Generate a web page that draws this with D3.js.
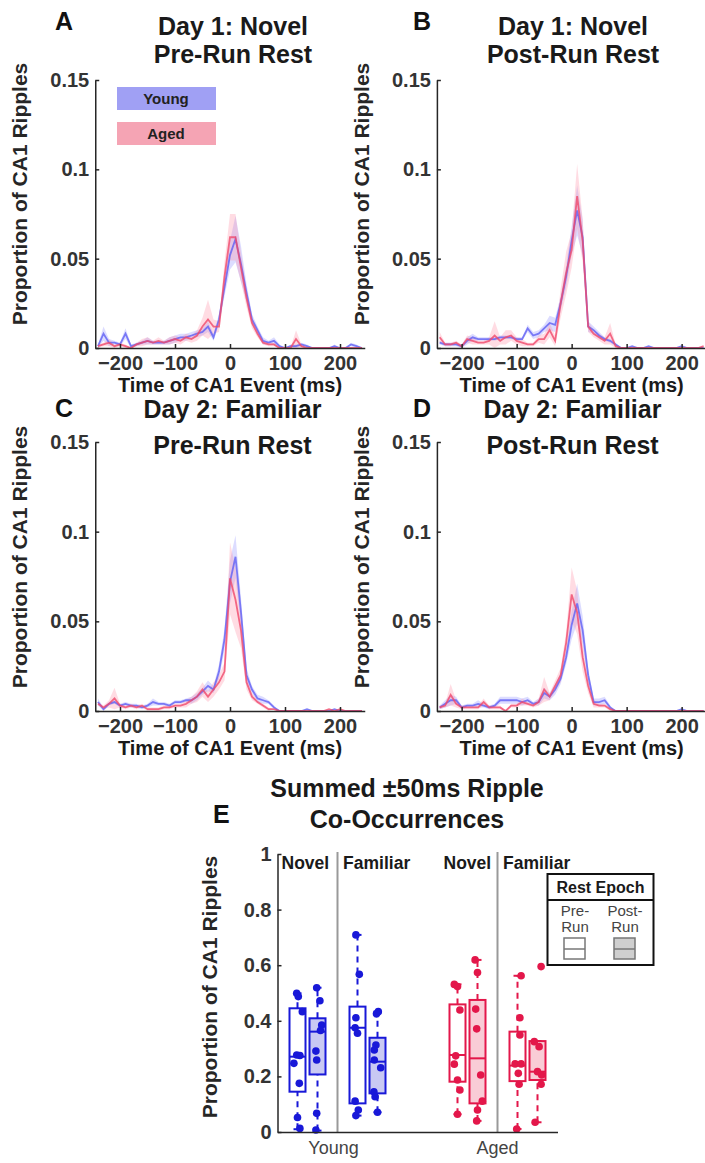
<!DOCTYPE html>
<html>
<head>
<meta charset="utf-8">
<script src="https://cdn.jsdelivr.net/npm/d3@7"></script>
<style>
  body { margin: 0; background: #fff; }
  text { font-family: "Liberation Sans", Arial, sans-serif; }
</style>
</head>
<body>
<div class="chart"></div>
<script>
// time bins (ms) of the CA1 event cross-correlation
const times = [-240,-230,-220,-210,-200,-190,-180,-170,-160,-150,
               -140,-130,-120,-110,-100,-90,-80,-70,-60,-50,
               -40,-30,-20,-10,0,10,20,30,40,50,
               60,70,80,90,100,110,120,130,140,150,
               160,170,180,190,200,210,220,230,240];

// A: Day 1 novel, pre-run rest
const youngA = [0.001,0.008,0.003,0.003,0.002,0.008,0.001,0.002,0.003,0.004,
                0.003,0.003,0.003,0.004,0.005,0.006,0.006,0.007,0.008,0.009,
                0.012,0.006,0.016,0.034,0.052,0.061,0.047,0.031,0.016,0.010,
                0.004,0.003,0.004,0.001,0.000,0.001,0.001,0.002,0.001,0.000,
                0.000,0.000,0.000,0.001,0.000,0.000,0.002,0.001,0.000];
const youngAsem = [0.001,0.004,0.002,0.001,0.001,0.003,0.001,0.001,0.001,0.002,
                   0.001,0.001,0.001,0.002,0.002,0.002,0.002,0.002,0.002,0.002,
                   0.003,0.002,0.003,0.005,0.008,0.013,0.010,0.005,0.003,0.002,
                   0.002,0.001,0.002,0.001,0.000,0.001,0.001,0.001,0.001,0.000,
                   0.000,0.000,0.000,0.001,0.000,0.000,0.001,0.001,0.000];
const agedA = [0.001,0.002,0.003,0.001,0.002,0.001,0.000,0.002,0.003,0.004,
               0.003,0.004,0.003,0.004,0.005,0.004,0.006,0.005,0.007,0.012,
               0.016,0.012,0.012,0.040,0.062,0.062,0.045,0.028,0.014,0.008,
               0.003,0.002,0.002,0.000,0.000,0.000,0.005,0.001,0.000,0.000,
               0.000,0.000,0.000,0.000,0.000,0.000,0.000,0.000,0.000];
const agedAsem = [0.001,0.001,0.002,0.001,0.001,0.001,0.000,0.001,0.002,0.002,
                  0.001,0.002,0.001,0.002,0.002,0.002,0.002,0.002,0.003,0.005,
                  0.011,0.004,0.003,0.008,0.013,0.013,0.008,0.005,0.003,0.002,
                  0.001,0.001,0.001,0.000,0.000,0.000,0.005,0.001,0.000,0.000,
                  0.000,0.000,0.000,0.000,0.000,0.000,0.000,0.000,0.000];

// B: Day 1 novel, post-run rest
const youngB = [0.003,0.002,0.002,0.002,0.001,0.004,0.006,0.005,0.005,0.005,
                0.005,0.006,0.006,0.006,0.005,0.005,0.011,0.007,0.008,0.011,
                0.014,0.013,0.025,0.040,0.060,0.077,0.062,0.012,0.010,0.007,
                0.005,0.004,0.002,0.000,0.000,0.001,0.000,0.000,0.001,0.000,
                0.000,0.000,0.000,0.000,0.001,0.000,0.000,0.000,0.000];
const youngBsem = [0.001,0.001,0.001,0.001,0.001,0.002,0.002,0.001,0.001,0.001,
                   0.001,0.001,0.001,0.001,0.001,0.001,0.002,0.002,0.002,0.002,
                   0.004,0.004,0.004,0.006,0.008,0.014,0.010,0.003,0.002,0.002,
                   0.001,0.001,0.001,0.000,0.000,0.000,0.000,0.000,0.000,0.000,
                   0.000,0.000,0.000,0.000,0.000,0.000,0.000,0.000,0.000];
const agedB = [0.006,0.002,0.002,0.003,0.001,0.005,0.004,0.003,0.003,0.004,
               0.007,0.004,0.006,0.007,0.004,0.003,0.002,0.002,0.005,0.005,
               0.010,0.004,0.025,0.042,0.055,0.085,0.060,0.012,0.008,0.006,
               0.004,0.008,0.001,0.000,0.000,0.000,0.000,0.000,0.000,0.000,
               0.000,0.000,0.000,0.000,0.000,0.000,0.000,0.000,0.001];
const agedBsem = [0.003,0.001,0.001,0.001,0.001,0.002,0.002,0.001,0.001,0.002,
                  0.008,0.002,0.004,0.003,0.002,0.002,0.001,0.001,0.002,0.003,
                  0.004,0.003,0.008,0.012,0.010,0.018,0.012,0.003,0.002,0.002,
                  0.002,0.006,0.001,0.000,0.000,0.000,0.000,0.000,0.000,0.000,
                  0.000,0.000,0.000,0.000,0.000,0.000,0.000,0.000,0.000];

// C: Day 2 familiar, pre-run rest
const youngC = [0.005,0.001,0.004,0.005,0.003,0.004,0.003,0.003,0.002,0.003,
                0.005,0.004,0.004,0.003,0.005,0.005,0.006,0.006,0.008,0.011,
                0.014,0.012,0.022,0.040,0.072,0.086,0.055,0.020,0.012,0.007,
                0.006,0.005,0.002,0.000,0.000,0.000,0.000,0.000,0.001,0.000,
                0.000,0.000,0.000,0.001,0.000,0.000,0.000,0.000,0.000];
const youngCsem = [0.002,0.001,0.001,0.001,0.001,0.001,0.001,0.001,0.001,0.001,
                   0.002,0.001,0.001,0.001,0.001,0.001,0.001,0.002,0.002,0.002,
                   0.003,0.002,0.004,0.006,0.012,0.012,0.008,0.004,0.002,0.002,
                   0.002,0.001,0.001,0.000,0.000,0.000,0.000,0.000,0.000,0.000,
                   0.000,0.000,0.000,0.000,0.000,0.000,0.000,0.000,0.000];
const agedC = [0.004,0.002,0.004,0.007,0.003,0.002,0.003,0.002,0.003,0.001,
               0.001,0.001,0.002,0.002,0.003,0.003,0.004,0.006,0.008,0.012,
               0.008,0.012,0.016,0.022,0.074,0.062,0.045,0.016,0.008,0.005,
               0.003,0.001,0.001,0.000,0.000,0.000,0.000,0.000,0.000,0.000,
               0.000,0.000,0.001,0.000,0.001,0.000,0.000,0.000,0.000];
const agedCsem = [0.001,0.001,0.002,0.006,0.001,0.001,0.001,0.001,0.001,0.001,
                  0.001,0.001,0.001,0.001,0.001,0.001,0.002,0.002,0.003,0.004,
                  0.003,0.004,0.004,0.005,0.020,0.018,0.010,0.004,0.002,0.001,
                  0.001,0.001,0.000,0.000,0.000,0.000,0.000,0.000,0.000,0.000,
                  0.000,0.000,0.000,0.000,0.000,0.000,0.000,0.000,0.000];

// D: Day 2 familiar, post-run rest
const youngD = [0.002,0.004,0.006,0.006,0.002,0.003,0.003,0.004,0.003,0.002,
                0.003,0.006,0.006,0.006,0.006,0.005,0.006,0.004,0.005,0.010,
                0.008,0.012,0.018,0.030,0.048,0.060,0.045,0.020,0.005,0.005,
                0.006,0.002,0.000,0.000,0.000,0.000,0.000,0.000,0.000,0.000,
                0.000,0.000,0.000,0.000,0.001,0.000,0.000,0.000,0.000];
const youngDsem = [0.001,0.002,0.003,0.002,0.001,0.001,0.001,0.002,0.001,0.001,
                   0.001,0.002,0.002,0.002,0.002,0.002,0.002,0.001,0.002,0.003,
                   0.002,0.003,0.003,0.004,0.008,0.011,0.008,0.004,0.002,0.002,
                   0.002,0.001,0.000,0.000,0.000,0.000,0.000,0.000,0.000,0.000,
                   0.000,0.000,0.000,0.000,0.000,0.000,0.000,0.000,0.000];
const agedD = [0.002,0.003,0.009,0.004,0.002,0.002,0.002,0.002,0.005,0.002,
               0.002,0.002,0.000,0.003,0.003,0.005,0.004,0.003,0.005,0.012,
               0.008,0.014,0.020,0.038,0.065,0.055,0.030,0.014,0.004,0.003,
               0.003,0.001,0.000,0.000,0.000,0.000,0.000,0.000,0.000,0.000,
               0.000,0.000,0.000,0.000,0.000,0.000,0.000,0.000,0.000];
const agedDsem = [0.001,0.001,0.006,0.002,0.001,0.001,0.001,0.001,0.002,0.001,
                  0.001,0.001,0.000,0.001,0.001,0.002,0.001,0.001,0.002,0.007,
                  0.002,0.003,0.004,0.006,0.015,0.012,0.008,0.004,0.002,0.001,
                  0.001,0.001,0.000,0.000,0.000,0.000,0.000,0.000,0.000,0.000,
                  0.000,0.000,0.000,0.000,0.000,0.000,0.000,0.000,0.000];

const yTicks = [0, 0.05, 0.1, 0.15];
const yTickLabels = ["0", "0.05", "0.1", "0.15"];
const xTicks = [-200, -100, 0, 100, 200];

// E: summed +-50ms co-occurrences, box order:
// Young Novel Pre, Young Novel Post, Young Familiar Pre, Young Familiar Post,
// Aged Novel Pre, Aged Novel Post, Aged Familiar Pre, Aged Familiar Post
const boxSlots = [1, 2, 4, 5, 9, 10, 12, 13];
const boxAge = ["Young","Young","Young","Young","Aged","Aged","Aged","Aged"];
const boxEpoch = ["Pre","Post","Pre","Post","Pre","Post","Pre","Post"];
const boxQ1  = [0.145, 0.207, 0.103, 0.139, 0.181, 0.103, 0.183, 0.187];
const boxMed = [0.271, 0.361, 0.375, 0.253, 0.277, 0.265, 0.239, 0.217];
const boxQ3  = [0.445, 0.409, 0.451, 0.339, 0.459, 0.475, 0.361, 0.327];
const whiskLo = [0.010, 0.005, 0.059, 0.071, 0.064, 0.040, 0.011, 0.035];
const whiskHi = [0.499, 0.519, 0.709, 0.433, 0.531, 0.619, 0.562, 0.327];
const boxPoints = [
  [0.499,0.487,0.433,0.277,0.275,0.247,0.175,0.052,0.013],
  [0.519,0.472,0.385,0.365,0.291,0.259,0.067,0.007],
  [0.709,0.567,0.411,0.375,0.355,0.111,0.079,0.059],
  [0.433,0.425,0.313,0.295,0.259,0.231,0.145,0.127,0.071],
  [0.531,0.523,0.439,0.274,0.244,0.187,0.151,0.064],
  [0.619,0.574,0.442,0.371,0.205,0.111,0.079,0.040],
  [0.562,0.411,0.349,0.245,0.245,0.211,0.172,0.011],
  [0.595,0.325,0.307,0.217,0.205,0.172,0.035]
];
// horizontal jitter of each dot, in slot units
const boxJitter = [
  [-0.04,0.04,0.24,-0.04,0.12,-0.18,0.09,0.0,0.12],
  [-0.04,0.12,0.21,0.15,-0.08,-0.04,-0.04,-0.08],
  [-0.08,0.09,-0.08,-0.12,0.0,-0.12,0.04,-0.08],
  [0.04,-0.05,-0.08,-0.16,-0.16,0.16,-0.18,-0.12,0.0],
  [-0.16,0.0,0.12,-0.09,-0.16,0.0,0.12,0.0],
  [-0.12,0.0,-0.09,-0.04,0.16,0.24,0.0,-0.04],
  [0.18,0.12,0.12,-0.12,0.18,0.04,0.08,-0.04],
  [0.18,-0.16,0.08,0.0,0.21,0.18,-0.12]
];
const eTicks = [0, 0.2, 0.4, 0.6, 0.8, 1];
const eTickLabels = ["0", "0.2", "0.4", "0.6", "0.8", "1"];
const sessionLabels = ["Novel", "Familiar", "Novel", "Familiar"];
const sessionSlots = [0.2, 3.28, 8.3, 11.28];
const ageLabels = ["Young", "Aged"];
const ageSlots = [2.8, 11];

const blue = "#5f5ff4", red = "#f0486a";
const boxBlue = "#1818d8", boxRed = "#e3174a";

const svg = d3.select('.chart')
    .append('svg')
    .attr('width', 705)
    .attr('height', 1163);

const panels = [
  {letter: "A", title: ["Day 1: Novel", "Pre-Run Rest"], left: 95.25, top: 80, bottom: 348,
   titleX: 233, titleY: [35, 63], letterX: 55, letterY: 30, ylabY: 194, xlabY: 392,
   young: youngA, youngSem: youngAsem, aged: agedA, agedSem: agedAsem, legend: true},
  {letter: "B", title: ["Day 1: Novel", "Post-Run Rest"], left: 436.9, top: 80, bottom: 348,
   titleX: 573, titleY: [35, 63], letterX: 413, letterY: 30, ylabY: 194, xlabY: 392,
   young: youngB, youngSem: youngBsem, aged: agedB, agedSem: agedBsem},
  {letter: "C", title: ["Day 2: Familiar", "Pre-Run Rest"], left: 95.25, top: 442, bottom: 711,
   titleX: 232.5, titleY: [418, 454], letterX: 55, letterY: 417, ylabY: 557, xlabY: 755,
   young: youngC, youngSem: youngCsem, aged: agedC, agedSem: agedCsem},
  {letter: "D", title: ["Day 2: Familiar", "Post-Run Rest"], left: 436.9, top: 442, bottom: 711,
   titleX: 572.5, titleY: [418, 454], letterX: 413, letterY: 417, ylabY: 557, xlabY: 755,
   young: youngD, youngSem: youngDsem, aged: agedD, agedSem: agedDsem}
];

panels.forEach(p => {
    const g = svg.append("g");
    const x = d3.scaleLinear().domain([-245, 245]).range([p.left, p.left + 269.5]);
    const y = d3.scaleLinear().domain([0, 0.15]).range([p.bottom, p.top]);

    // shaded sem bands then mean lines
    const series = [
      {m: p.young, s: p.youngSem, c: blue, band: "#8c8cff"},
      {m: p.aged, s: p.agedSem, c: red, band: "#ff8aa2"}
    ];
    series.forEach(ser => {
        const area = d3.area()
            .x((d, i) => x(times[i]))
            .y0((d, i) => y(Math.max(0, d - ser.s[i])))
            .y1((d, i) => y(d + ser.s[i]));
        g.append("path").datum(ser.m)
            .attr("d", area)
            .attr("fill", ser.band)
            .attr("fill-opacity", 0.3);
    });
    series.forEach(ser => {
        const line = d3.line().x((d, i) => x(times[i])).y(d => y(d));
        g.append("path").datum(ser.m)
            .attr("d", line)
            .attr("fill", "none")
            .attr("stroke", ser.c)
            .attr("stroke-opacity", 0.8)
            .attr("stroke-width", 1.8);
    });

    const yAxis = d3.axisLeft(y).tickValues(yTicks)
        .tickFormat((d, i) => yTickLabels[i]).tickSize(-4).tickSizeOuter(0).tickPadding(6);
    const xAxis = d3.axisBottom(x).tickValues(xTicks).tickSize(-4).tickSizeOuter(0).tickPadding(8);

    g.append("g").attr("class", "axis y-axis")
        .attr("transform", `translate(${p.left}, 0)`)
        .call(yAxis);
    g.append("g").attr("class", "axis x-axis")
        .attr("transform", `translate(0, ${p.bottom})`)
        .call(xAxis);

    g.selectAll(".axis path, .axis line").attr("stroke", "#262626").attr("stroke-width", 1.5);
    g.selectAll(".axis text")
        .attr("fill", "#333")
        .style("font-size", "20px")
        .style("font-weight", "bold")
        .style("font-family", '"Liberation Sans", Arial, sans-serif');

    // titles and labels
    p.title.forEach((t, i) => {
        g.append("text")
            .attr("x", p.titleX).attr("y", p.titleY[i])
            .attr("text-anchor", "middle")
            .style("font-size", "25px").style("font-weight", "bold")
            .attr("fill", "#1a1a1a")
            .text(t);
    });
    g.append("text")
        .attr("x", p.letterX).attr("y", p.letterY)
        .style("font-size", "25px").style("font-weight", "bold")
        .attr("fill", "#111")
        .text(p.letter);
    g.append("text")
        .attr("transform", `translate(${p.left - 68}, ${p.ylabY}) rotate(-90)`)
        .attr("text-anchor", "middle")
        .style("font-size", "21px").style("font-weight", "bold")
        .attr("fill", "#262626")
        .text("Proportion of CA1 Ripples");
    g.append("text")
        .attr("x", x(0)).attr("y", p.xlabY)
        .attr("text-anchor", "middle")
        .style("font-size", "20px").style("font-weight", "bold")
        .attr("fill", "#1a1a1a")
        .text("Time of CA1 Event (ms)");

    if (p.legend) {
        const leg = [{name: "Young", fill: "#a0a0f4", top: 87}, {name: "Aged", fill: "#f5a4b4", top: 122}];
        leg.forEach(l => {
            g.append("rect")
                .attr("x", 117).attr("y", l.top)
                .attr("width", 99).attr("height", 23)
                .attr("fill", l.fill);
            g.append("text")
                .attr("x", 166).attr("y", l.top + 17)
                .attr("text-anchor", "middle")
                .style("font-size", "15px").style("font-weight", "bold")
                .attr("fill", "#222")
                .text(l.name);
        });
    }
});

// ---- panel E: box plots ----
const ex = d3.scaleLinear().domain([0, 14]).range([277.5, 557.5]);
const ey = d3.scaleLinear().domain([0, 1]).range([1132, 854]);
const eg = svg.append("g");

// separators between novel / familiar
[3, 11].forEach(s => {
    eg.append("line")
        .attr("x1", ex(s)).attr("x2", ex(s))
        .attr("y1", 852).attr("y2", 1132)
        .attr("stroke", "#999").attr("stroke-width", 2);
});

boxSlots.forEach((slot, i) => {
    const col = boxAge[i] === "Young" ? boxBlue : boxRed;
    const fill = boxEpoch[i] === "Post" ? (boxAge[i] === "Young" ? "#c9c9f3" : "#f9ccd6") : "none";
    const cx = ex(slot);
    // whiskers
    [[whiskLo[i], boxQ1[i]], [boxQ3[i], whiskHi[i]]].forEach(w => {
        if (w[1] - w[0] > 0.001) {
            eg.append("line")
                .attr("x1", cx).attr("x2", cx)
                .attr("y1", ey(w[0])).attr("y2", ey(w[1]))
                .attr("stroke", col).attr("stroke-width", 2)
                .attr("stroke-dasharray", "6,5");
        }
    });
    [whiskLo[i], whiskHi[i]].forEach(v => {
        eg.append("line")
            .attr("x1", cx - 4).attr("x2", cx + 4)
            .attr("y1", ey(v)).attr("y2", ey(v))
            .attr("stroke", col).attr("stroke-width", 2);
    });
    eg.append("rect")
        .attr("x", ex(slot - 0.4)).attr("width", ex(slot + 0.4) - ex(slot - 0.4))
        .attr("y", ey(boxQ3[i])).attr("height", ey(boxQ1[i]) - ey(boxQ3[i]))
        .attr("fill", fill).attr("stroke", col).attr("stroke-width", 2);
    eg.append("line")
        .attr("x1", ex(slot - 0.4)).attr("x2", ex(slot + 0.4))
        .attr("y1", ey(boxMed[i])).attr("y2", ey(boxMed[i]))
        .attr("stroke", col).attr("stroke-width", 2);
    eg.selectAll(null)
        .data(boxPoints[i])
        .enter()
        .append("circle")
            .attr("cx", (d, j) => ex(slot + boxJitter[i][j]))
            .attr("cy", d => ey(d))
            .attr("r", 3.8)
            .attr("fill", col);
});

const eyAxis = d3.axisLeft(ey).tickValues(eTicks)
    .tickFormat((d, i) => eTickLabels[i]).tickSize(-4).tickSizeOuter(0).tickPadding(6);
eg.append("g").attr("class", "axis").attr("transform", "translate(277.5, 0)").call(eyAxis);
eg.append("g").attr("class", "axis").attr("transform", "translate(0, 1132)")
    .call(d3.axisBottom(ex).tickValues([]).tickSizeOuter(0));
eg.selectAll(".axis path, .axis line").attr("stroke", "#262626").attr("stroke-width", 1.5);
eg.selectAll(".axis text")
    .attr("fill", "#333")
    .style("font-size", "20px")
    .style("font-weight", "bold")
    .style("font-family", '"Liberation Sans", Arial, sans-serif');

sessionLabels.forEach((s, i) => {
    eg.append("text")
        .attr("x", ex(sessionSlots[i])).attr("y", 869)
        .style("font-size", "17.5px").style("font-weight", "bold")
        .attr("fill", "#1a1a1a")
        .text(s);
});
ageLabels.forEach((a, i) => {
    eg.append("text")
        .attr("x", ex(ageSlots[i])).attr("y", 1154)
        .attr("text-anchor", "middle")
        .style("font-size", "18px")
        .attr("fill", "#444")
        .text(a);
});

["Summed \u00b150ms Ripple", "Co-Occurrences"].forEach((t, i) => {
    eg.append("text")
        .attr("x", 407).attr("y", [797, 828][i])
        .attr("text-anchor", "middle")
        .style("font-size", "25px").style("font-weight", "bold")
        .attr("fill", "#1a1a1a")
        .text(t);
});
eg.append("text").attr("x", 213).attr("y", 823)
    .style("font-size", "25px").style("font-weight", "bold").attr("fill", "#111")
    .text("E");
eg.append("text")
    .attr("transform", "translate(217, 987) rotate(-90)")
    .attr("text-anchor", "middle")
    .style("font-size", "21px").style("font-weight", "bold")
    .attr("fill", "#262626")
    .text("Proportion of CA1 Ripples");

// rest epoch legend
const lg = eg.append("g");
lg.append("rect").attr("x", 547.5).attr("y", 874).attr("width", 106).attr("height", 91)
    .attr("fill", "#fff").attr("stroke", "#111").attr("stroke-width", 2);
lg.append("line").attr("x1", 547.5).attr("x2", 653.5).attr("y1", 900).attr("y2", 900)
    .attr("stroke", "#111").attr("stroke-width", 2);
lg.append("text").attr("x", 600.5).attr("y", 893).attr("text-anchor", "middle")
    .style("font-size", "16px").style("font-weight", "bold").attr("fill", "#1a1a1a")
    .text("Rest Epoch");
const legEpochs = [{l1: "Pre-", cx: 575, fill: "#fff"}, {l1: "Post-", cx: 625, fill: "#cfcfcf"}];
legEpochs.forEach(e => {
    lg.append("text").attr("x", e.cx).attr("y", 916).attr("text-anchor", "middle")
        .style("font-size", "15px").attr("fill", "#444").text(e.l1);
    lg.append("text").attr("x", e.cx).attr("y", 932).attr("text-anchor", "middle")
        .style("font-size", "15px").attr("fill", "#444").text("Run");
    lg.append("rect").attr("x", e.cx - 11).attr("y", 938).attr("width", 21).attr("height", 21)
        .attr("fill", e.fill).attr("stroke", "#777").attr("stroke-width", 1.5);
    lg.append("line").attr("x1", e.cx - 11).attr("x2", e.cx + 10).attr("y1", 949).attr("y2", 949)
        .attr("stroke", "#777").attr("stroke-width", 1.5);
});
</script>
</body>
</html>
